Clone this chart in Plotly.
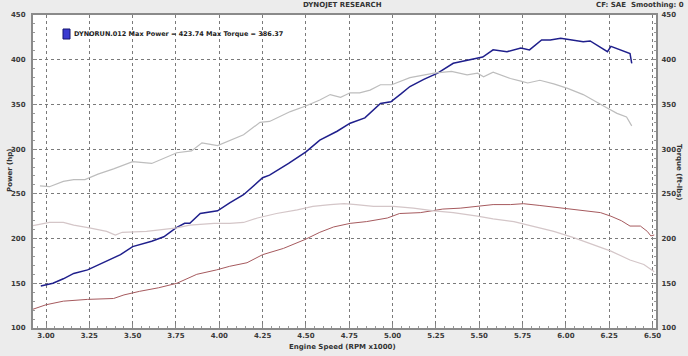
import plotly.graph_objects as go

# ---- data ----
power_rpm = [2.97, 3.04, 3.10, 3.16, 3.24, 3.33, 3.43, 3.50, 3.61, 3.68, 3.75, 3.80, 3.83, 3.89, 3.99,
             4.06, 4.14, 4.25, 4.29, 4.40, 4.50, 4.58, 4.68, 4.755, 4.84, 4.93, 4.99, 5.05, 5.10, 5.18,
             5.26, 5.35, 5.44, 5.52, 5.58, 5.66, 5.74, 5.79, 5.86, 5.91, 5.97, 6.03, 6.10, 6.14, 6.18,
             6.24, 6.26, 6.30, 6.35, 6.37, 6.38]
power_hp = [147, 150, 155, 161, 165, 173, 182, 191, 197, 202, 212, 217, 217, 228, 231,
            240, 249, 268, 271, 284, 297, 310, 320, 329, 335, 351, 353, 362, 370, 378,
            385, 396, 400, 403, 411, 409, 413, 411, 422, 422, 424, 422, 420, 421, 416,
            409, 415, 412, 409, 407, 396]

torque_rpm = [2.965, 3.02, 3.10, 3.16, 3.225, 3.30, 3.39, 3.50, 3.61, 3.68, 3.755, 3.84, 3.90, 3.99,
              4.06, 4.14, 4.235, 4.29, 4.41, 4.495, 4.58, 4.64, 4.70, 4.755, 4.81, 4.87, 4.93, 4.995,
              5.10, 5.24, 5.34, 5.43, 5.49, 5.525, 5.58, 5.68, 5.74, 5.78, 5.85, 5.93, 6.01, 6.10,
              6.22, 6.295, 6.35, 6.38]
torque_ftlb = [259, 258, 264, 266, 266, 272, 278, 286, 284, 290, 296, 298, 307, 304,
               310, 316, 330, 331, 342, 348, 355, 361, 358, 363, 363, 366, 372, 372,
               380, 385, 387, 383, 385, 381, 386, 379, 376, 374, 377, 373, 368, 361,
               348, 340, 336, 326]

red_rpm = [2.91, 3.00, 3.10, 3.24, 3.39, 3.45, 3.54, 3.65, 3.755, 3.87, 3.985, 4.06, 4.16, 4.25,
           4.37, 4.495, 4.58, 4.66, 4.755, 4.85, 4.97, 5.04, 5.16, 5.22, 5.29, 5.39, 5.47, 5.58,
           5.68, 5.755, 5.85, 5.97, 6.03, 6.12, 6.20, 6.26, 6.32, 6.37, 6.43, 6.47, 6.49, 6.51]
red_val = [120, 126, 130, 132, 133, 137, 141, 145, 150, 160, 165, 169, 173, 182,
           189, 199, 207, 213, 217, 219, 223, 228, 229, 231, 233, 234, 236, 238,
           238, 239, 237, 234, 233, 231, 229, 225, 220, 214, 214, 208, 203, 204]

gray_rpm = [2.91, 3.02, 3.10, 3.16, 3.25, 3.35, 3.40, 3.44, 3.58, 3.755, 3.83, 3.97, 4.06, 4.14,
            4.22, 4.33, 4.45, 4.54, 4.64, 4.72, 4.79, 4.89, 5.005, 5.12, 5.24, 5.35, 5.49, 5.58,
            5.70, 5.81, 5.93, 6.045, 6.16, 6.26, 6.37, 6.45, 6.51]
gray_val = [214, 218, 218, 215, 212, 208, 204, 207, 208, 212, 215, 217, 217, 218,
            223, 228, 232, 236, 238, 239, 238, 236, 236, 234, 231, 229, 225, 222,
            219, 214, 208, 201, 193, 186, 176, 171, 163]

x_ticks = [3.00, 3.25, 3.50, 3.75, 4.00, 4.25, 4.50, 4.75, 5.00, 5.25, 5.50, 5.75, 6.00, 6.25, 6.50]
y_ticks = [100, 150, 200, 250, 300, 350, 400, 450]

title_text = "DYNOJET RESEARCH"
cf_text = "CF: SAE  Smoothing: 0"
legend_text = "DYNORUN.012 Max Power = 423.74 Max Torque = 386.37"

FONT = "DejaVu Sans"

fig = go.Figure()
fig.add_trace(go.Scatter(x=gray_rpm, y=gray_val, mode="lines",
                         line=dict(color="#d4c6c8", width=1.2), yaxis="y2"))
fig.add_trace(go.Scatter(x=torque_rpm, y=torque_ftlb, mode="lines",
                         line=dict(color="#bdbdbd", width=1.2), yaxis="y2"))
fig.add_trace(go.Scatter(x=red_rpm, y=red_val, mode="lines",
                         line=dict(color="#a65a5e", width=1.0)))
fig.add_trace(go.Scatter(x=power_rpm, y=power_hp, mode="lines",
                         line=dict(color="#1f1f8c", width=1.5)))

axis_common = dict(
    showline=True, linecolor="#8a8a8a", linewidth=2,
    tickfont=dict(family=FONT, size=7, color="#3a3a3a"),
    ticks="inside", ticklen=4, tickcolor="#888888",
)

fig.update_layout(
    width=688, height=356,
    margin=dict(l=33, r=32, t=15, b=28),
    paper_bgcolor="#ececec", plot_bgcolor="white",
    showlegend=False,
    font=dict(family=FONT, size=7, color="#333333"),
    xaxis=dict(range=[2.925, 6.52], tickvals=x_ticks,
               ticktext=["<b>%.2f</b>" % v for v in x_ticks],
               showgrid=True, gridcolor="#7a7a7a", griddash="dot", gridwidth=1,
               mirror=True, zeroline=False,
               minor=dict(dtick=0.05, ticks="inside", ticklen=2, tickcolor="#999999", showgrid=False),
               **axis_common),
    yaxis=dict(range=[100, 450], tickvals=y_ticks,
               ticktext=["<b>%d</b>" % v for v in y_ticks],
               showgrid=True, gridcolor="#7a7a7a", griddash="dot", gridwidth=1,
               zeroline=False, ticklabelstandoff=4,
               minor=dict(dtick=10, ticks="inside", ticklen=2, tickcolor="#999999", showgrid=False),
               **axis_common),
    yaxis2=dict(range=[100, 450], tickvals=y_ticks, overlaying="y", side="right",
                ticktext=["<b>%d</b>" % v for v in y_ticks],
                showgrid=False, zeroline=False, ticklabelstandoff=2,
                minor=dict(dtick=10, ticks="inside", ticklen=2, tickcolor="#999999", showgrid=False),
                **axis_common),
)

W, H = 623.0, 313.0
def px(x):
    return (x - 33) / W
def py(y):
    return (328 - y) / H

ann = [
    dict(text="<b>" + title_text + "</b>", x=px(342), y=py(5), xanchor="center", yanchor="middle",
         font=dict(size=7)),
    dict(text="<b>" + cf_text + "</b>", x=px(686), y=py(5), xanchor="right", yanchor="middle",
         font=dict(size=7)),
    dict(text="<b>Power (hp)</b>", x=px(10), y=py(170), textangle=-90, xanchor="center",
         yanchor="middle", font=dict(size=7)),
    dict(text="<b>Torque (ft-lbs)</b>", x=px(679), y=py(172), textangle=90, xanchor="center",
         yanchor="middle", font=dict(size=7)),
    dict(text="<b>Engine Speed (RPM x1000)</b>", x=px(342), y=py(347), xanchor="center",
         yanchor="middle", font=dict(size=7)),
    dict(text="<b>" + legend_text + "</b>", x=px(72), y=py(34), xanchor="left", yanchor="middle",
         font=dict(size=6.5, color="#222222")),
]
for a in ann:
    a.update(xref="paper", yref="paper", showarrow=False)
fig.update_layout(annotations=ann)

fig.add_shape(type="rect", xref="paper", yref="paper",
              x0=px(63), x1=px(70), y0=py(39), y1=py(29),
              fillcolor="#3a3ad0", line=dict(color="#14146e", width=1))

fig.write_html("out.html")
